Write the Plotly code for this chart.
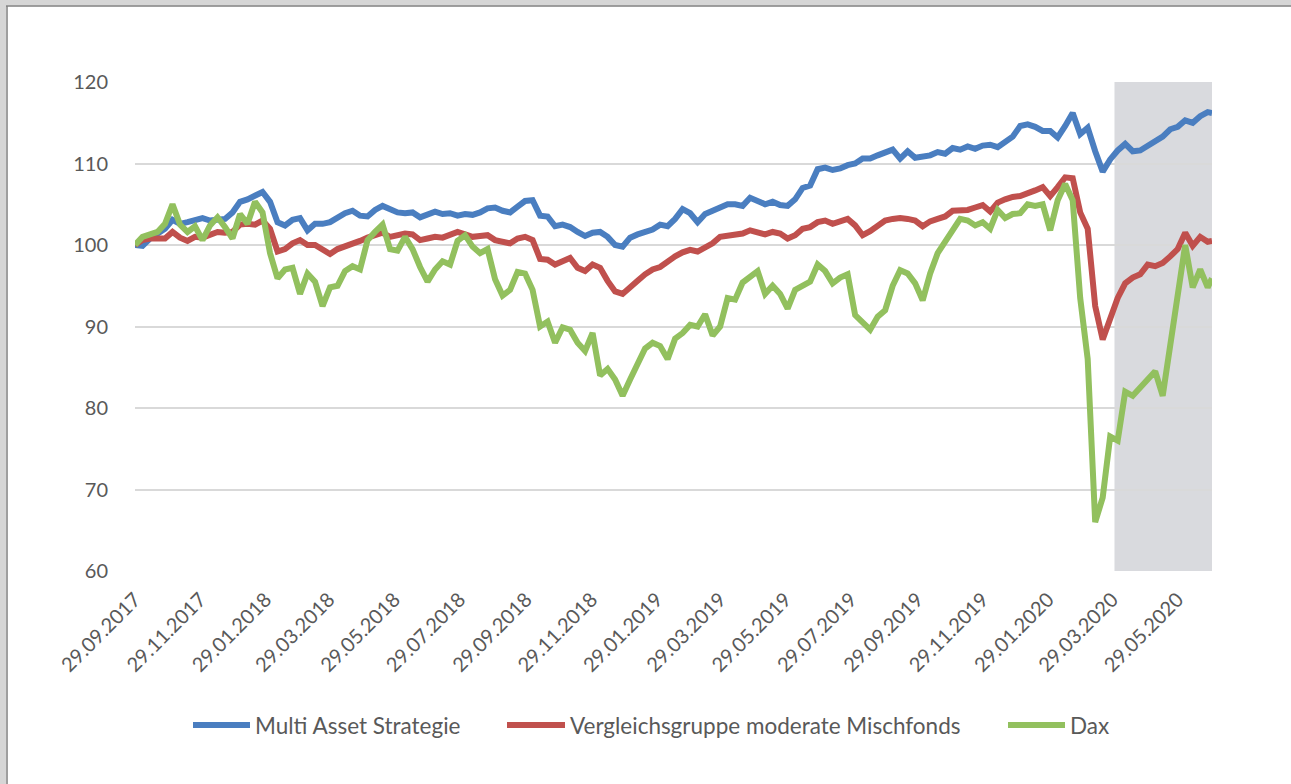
import pandas as pd
import plotly.graph_objects as go

# weekly observation dates (Fridays) plus the final month-end
dates = list(pd.date_range("2017-09-29", "2020-06-26", freq="7D").strftime("%Y-%m-%d")) + ["2020-06-30"]

multi_asset = [
    100.0, 99.9, 100.8, 101.5, 102.0, 103.1, 102.6, 102.8, 103.0, 103.3,
    103.0, 103.1, 103.2, 104.0, 105.3, 105.6, 106.0, 106.5, 105.3, 102.8,
    102.4, 103.1, 103.3, 101.8, 102.6, 102.6, 102.8, 103.4, 103.9, 104.2,
    103.6, 103.5, 104.3, 104.8, 104.3, 104.0, 103.9, 104.0, 103.4, 103.8,
    104.1, 103.8, 103.9, 103.6, 103.8, 103.7, 104.0, 104.5, 104.6, 104.2,
    104.0, 104.7, 105.4, 105.5, 103.6, 103.5, 102.3, 102.5, 102.2, 101.6,
    101.1, 101.5, 101.6, 101.0, 100.0, 99.8, 100.9, 101.3, 101.6, 101.9,
    102.5, 102.3, 103.2, 104.4, 103.9, 102.8, 103.8, 104.2, 104.7, 105.0,
    105.0, 104.8, 105.8, 105.4, 105.0, 105.3, 104.9, 104.8, 105.6, 107.0,
    107.3, 109.3, 109.5, 109.2, 109.4, 109.8, 110.0, 110.6, 110.6, 111.0,
    111.4, 111.7, 110.6, 111.5, 110.7, 110.8, 111.0, 111.4, 111.2, 111.9,
    111.7, 112.1, 111.8, 112.2, 112.3, 112.0, 112.6, 113.3, 114.6, 114.8,
    114.5, 114.0, 114.0, 113.2, 114.6, 116.2, 113.6, 114.4, 111.5, 109.0,
    110.5, 111.6, 112.4, 111.5, 111.6, 112.2, 112.6, 113.3, 114.2, 114.5,
    115.3, 115.0, 115.8, 116.3, 116.2,
]

peer_group = [
    100.0, 100.6, 100.8, 100.8, 100.8, 101.6, 100.9, 100.5, 101.0, 100.9,
    101.2, 101.6, 101.5, 101.6, 102.5, 102.6, 102.5, 103.0, 102.0, 99.2,
    99.5, 100.2, 100.6, 100.0, 100.0, 99.5, 98.9, 99.5, 99.8, 100.2,
    100.5, 100.9, 101.2, 101.5, 101.0, 101.2, 101.4, 101.3, 100.6, 100.8,
    101.0, 100.9, 101.2, 101.6, 101.3, 101.0, 101.1, 101.2, 100.6, 100.4,
    100.2, 100.8, 101.0, 100.6, 98.3, 98.2, 97.6, 98.0, 98.4, 97.2,
    96.8, 97.6, 97.2, 95.6, 94.3, 94.0, 94.7, 95.6, 96.4, 97.0,
    97.3, 98.0, 98.6, 99.1, 99.4, 99.2, 99.6, 100.2, 101.0, 101.1,
    101.2, 101.4, 101.8, 101.5, 101.3, 101.6, 101.4, 100.8, 101.2, 102.0,
    102.2, 102.8, 103.0, 102.6, 102.9, 103.2, 102.4, 101.2, 101.7, 102.3,
    103.0, 103.2, 103.3, 103.2, 103.0, 102.3, 102.9, 103.2, 103.5, 104.2,
    104.2, 104.3, 104.6, 104.9, 104.1, 105.2, 105.6, 105.9, 106.0, 106.3,
    106.7, 107.1, 106.0, 107.1, 108.3, 108.2, 104.0, 102.0, 92.5, 88.4,
    91.0, 93.5, 95.3, 96.0, 96.4, 97.6, 97.4, 97.8, 98.6, 99.5,
    101.5, 99.9, 101.0, 100.4, 100.5,
]

dax = [
    100.0, 101.0, 101.3, 101.6, 102.6, 105.0, 102.5, 101.6, 102.3, 100.6,
    102.4, 103.4, 102.2, 100.8, 103.8, 102.6, 105.3, 104.0, 99.0, 95.9,
    97.0, 97.2, 94.0, 96.5, 95.5, 92.5, 94.8, 95.0, 96.8, 97.4,
    97.0, 100.6, 101.6, 102.5, 99.5, 99.3, 101.0, 99.5, 97.3, 95.5,
    97.0, 98.0, 97.6, 100.5, 101.2, 99.8, 99.0, 99.5, 95.8, 93.8,
    94.5, 96.7, 96.5, 94.5, 90.0, 90.6, 88.0, 89.9, 89.6, 88.0,
    87.0, 89.2, 84.0, 84.8, 83.5, 81.5, 83.5, 85.5, 87.3, 88.0,
    87.6, 86.0, 88.5, 89.2, 90.2, 90.0, 91.5, 88.9, 90.0, 93.5,
    93.3, 95.4, 96.1, 96.8, 94.0, 95.0, 94.0, 92.2, 94.5, 95.0,
    95.5, 97.6, 96.8, 95.3, 96.0, 96.4, 91.4, 90.5, 89.6, 91.2,
    92.0, 95.0, 96.9, 96.5, 95.3, 93.2, 96.5, 99.0, 100.4, 102.0,
    103.2, 103.0, 102.4, 102.8, 102.0, 104.3, 103.3, 103.8, 103.9, 105.0,
    104.8, 105.0, 101.8, 105.5, 107.5, 105.5, 93.5, 86.0, 66.0, 69.0,
    76.5, 76.0, 82.0, 81.5, 82.5, 83.5, 84.5, 81.5, 87.5, 93.5,
    100.0, 94.8, 97.0, 94.8, 95.9,
]

series_names = ["Multi Asset Strategie", "Vergleichsgruppe moderate Mischfonds", "Dax"]
series_colors = ["#4A7EC0", "#C0504D", "#92C05E"]

tick_dates = [
    "2017-09-29", "2017-11-29", "2018-01-29", "2018-03-29", "2018-05-29", "2018-07-29",
    "2018-09-29", "2018-11-29", "2019-01-29", "2019-03-29", "2019-05-29", "2019-07-29",
    "2019-09-29", "2019-11-29", "2020-01-29", "2020-03-29", "2020-05-29",
]
shade_start, shade_end = "2020-03-31", "2020-06-30"
x_start, x_end = "2017-09-29", "2020-06-30"

font_family = "Lato, 'Open Sans', sans-serif"
text_color = "#595959"

L, T, W, H = 135, 82, 1077, 489
def px_x(p):
    return (p - L) / W
def px_y(p):
    return (T + H - p) / H

fig = go.Figure()
for name, vals, col in zip(series_names, [multi_asset, peer_group, dax], series_colors):
    fig.add_trace(go.Scatter(
        x=dates, y=vals, name=name, mode="lines",
        line=dict(color=col, width=6), showlegend=False,
    ))

# shaded period
fig.add_shape(type="rect", xref="x", yref="y", x0=shade_start, x1=shade_end, y0=60, y1=120,
              fillcolor="#D9DADE", line=dict(width=0), layer="below")

# document frame (grey strip top and left)
fig.add_shape(type="rect", xref="paper", yref="paper", x0=px_x(0), x1=px_x(1291), y0=px_y(0), y1=px_y(5.5),
              fillcolor="#D6D6D6", line=dict(width=0))
fig.add_shape(type="rect", xref="paper", yref="paper", x0=px_x(0), x1=px_x(6), y0=px_y(0), y1=px_y(784),
              fillcolor="#D6D6D6", line=dict(width=0))
fig.add_shape(type="line", xref="paper", yref="paper", x0=px_x(6), x1=px_x(1291), y0=px_y(6), y1=px_y(6),
              line=dict(color="#7F7F7F", width=1.5))
fig.add_shape(type="line", xref="paper", yref="paper", x0=px_x(7), x1=px_x(7), y0=px_y(6), y1=px_y(784),
              line=dict(color="#7F7F7F", width=1.5))

# legend (long swatches as in the original)
legend_swatch = [(193, 250), (507, 565), (1008, 1065)]
legend_y = 725
for (sx0, sx1), name, col in zip(legend_swatch, series_names, series_colors):
    fig.add_shape(type="line", xref="paper", yref="paper",
                  x0=px_x(sx0), x1=px_x(sx1), y0=px_y(legend_y), y1=px_y(legend_y),
                  line=dict(color=col, width=6))
    fig.add_annotation(xref="paper", yref="paper", x=px_x(sx1 + 3), y=px_y(legend_y),
                       xanchor="left", yanchor="middle", text=name, showarrow=False,
                       font=dict(size=22.5, color=text_color, family=font_family))

fig.update_layout(
    width=1291, height=784,
    margin=dict(l=L, r=1291 - L - W, t=T, b=784 - T - H),
    paper_bgcolor="white", plot_bgcolor="white",
    font=dict(family=font_family, size=20, color=text_color),
    showlegend=False,
    xaxis=dict(
        type="date", range=[x_start, x_end],
        tickvals=tick_dates, tickformat="%d.%m.%Y", tickangle=-45,
        showgrid=False, zeroline=False, showline=False,
        ticks="outside", ticklen=8, tickcolor="rgba(0,0,0,0)",
        tickfont=dict(size=20, color=text_color),
    ),
    yaxis=dict(
        range=[60, 120], tickvals=[60, 70, 80, 90, 100, 110, 120],
        showgrid=True, gridcolor="#D9D9D9", gridwidth=1.5, zeroline=False, showline=False,
        ticks="outside", ticklen=22, tickcolor="rgba(0,0,0,0)",
        tickfont=dict(size=20, color=text_color),
    ),
)

fig.write_html("out.html", config={"displayModeBar": False},
               post_script="document.body.style.margin='0';document.body.style.padding='0';")
